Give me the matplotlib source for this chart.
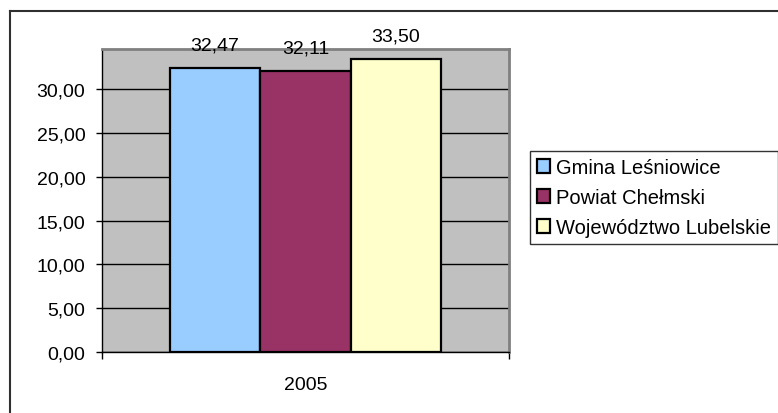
import numpy as np
import matplotlib
matplotlib.use("Agg")
import matplotlib.pyplot as plt
from matplotlib.lines import Line2D
from matplotlib.patches import Patch

# data
years = ["2005"]
series = ["Gmina Leśniowice", "Powiat Chełmski", "Województwo Lubelskie"]
values = [32.47, 32.11, 33.50]
colors = ["#99CCFF", "#993366", "#FFFFCC"]
yticks = [0, 5, 10, 15, 20, 25, 30]

plt.rcParams['font.family'] = ['Liberation Sans', 'DejaVu Sans']

W, H = 778, 414
fig = plt.figure(figsize=(W / 100, H / 100), dpi=100)
fig.patch.set_facecolor("white")

def fx(px):
    return px / W

def fy(py):
    return 1 - py / H

# outer chart frame (runs off the right and bottom of the image)
fig.add_artist(Line2D([fx(10), fx(10)], [fy(12), 0], color="#303030", lw=1.5))
fig.add_artist(Line2D([fx(10), 1], [fy(12), fy(12)], color="#303030", lw=1.5))

ax = fig.add_axes([fx(102), fy(353), fx(509) - fx(102), (353 - 50) / H])
ax.set_facecolor("#C0C0C0")

x = np.arange(len(years))
w = 0.222
for i, (s, v, c) in enumerate(zip(series, values, colors)):
    ax.bar(x + (i - 1) * w, [v], width=w, color=c, edgecolor="black",
           linewidth=1.6, label=s, zorder=3)
    ax.annotate(f"{v:.2f}".replace(".", ","), (x[0] + (i - 1) * w, v),
                xytext=(0, 16.5), textcoords="offset points", ha="center",
                va="center", fontsize=14, annotation_clip=False)

ax.set_xlim(-0.5, 0.5)
ax.set_ylim(0, 34.6)
ax.set_yticks(yticks)
ax.set_yticklabels([f"{t:.2f}".replace(".", ",") for t in yticks], fontsize=14)
ax.tick_params(axis="y", length=4, width=1, color="black", pad=8)
ax.yaxis.grid(True, color="black", lw=1, zorder=1)
ax.set_axisbelow(True)

ax.set_xticks(x)
ax.set_xticklabels(years, fontsize=14)
ax.tick_params(axis="x", length=0, pad=17)
ax.set_xticks([-0.5, 0.5], minor=True)
ax.tick_params(axis="x", which="minor", length=5, width=1, color="black")

for side in ["left", "bottom"]:
    ax.spines[side].set_color("black")
    ax.spines[side].set_linewidth(1)
for side in ["top", "right"]:
    ax.spines[side].set_color("#808080")
    ax.spines[side].set_linewidth(2)

handles = [Patch(facecolor=c, edgecolor="black", linewidth=1.6) for c in colors]
leg = fig.legend(handles, series, loc="upper left",
                 bbox_to_anchor=(fx(530), fy(152)), fontsize=14.5,
                 frameon=True, fancybox=False, shadow=False,
                 handlelength=0.65, handleheight=0.65, handletextpad=0.3,
                 labelspacing=0.55, borderpad=0.35, borderaxespad=0)
leg.get_frame().set_edgecolor("black")
leg.get_frame().set_linewidth(1)

fig.savefig("out.png", dpi=100)
